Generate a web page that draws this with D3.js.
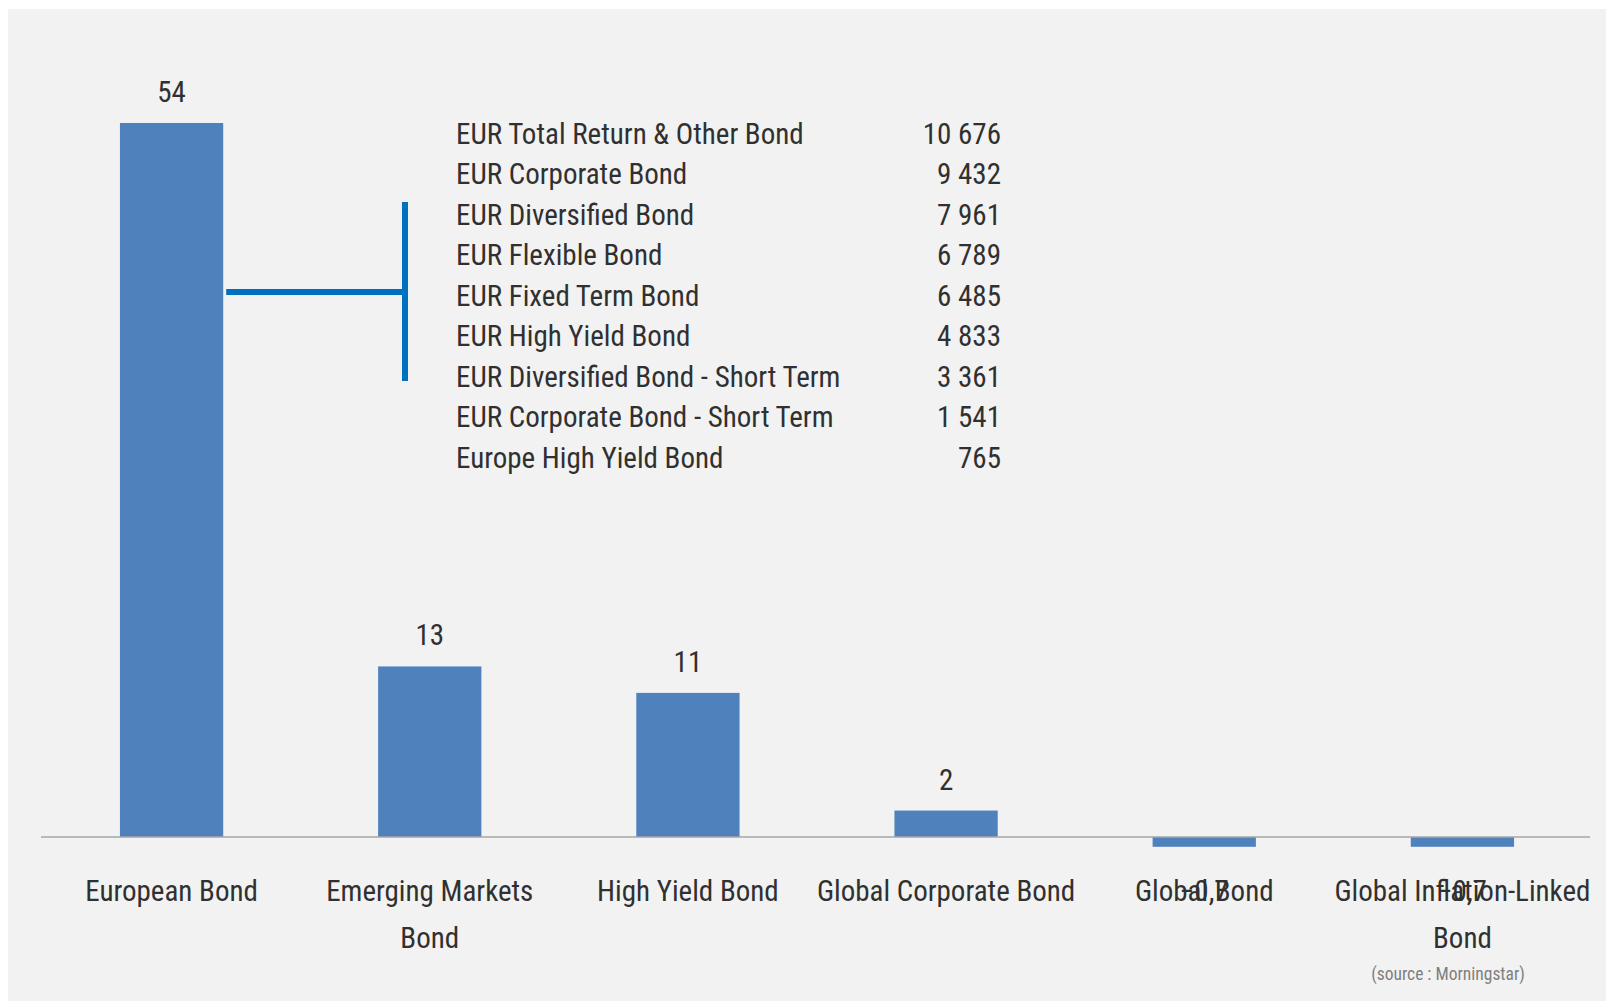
<!DOCTYPE html>
<html>
<head>
<meta charset="utf-8">
<script src="https://cdn.jsdelivr.net/npm/d3@7"></script>
<style>
  html, body { margin: 0; padding: 0; background: #ffffff; }
  svg { display: block; }
  text { font-family: "Liberation Sans Narrow", "Arial Narrow", "Roboto Condensed", "DejaVu Sans Condensed", sans-serif; }
</style>
</head>
<body>
<svg id="chart" width="1606" height="1001"></svg>
<script>
// ---- Data ----
const categories = [
  ["European Bond"],
  ["Emerging Markets", "Bond"],
  ["High Yield Bond"],
  ["Global Corporate Bond"],
  ["Global Bond"],
  ["Global Inflation-Linked", "Bond"]
];
const values = [54, 12.9, 10.9, 2.0, -0.74, -0.74];

const subCategories = [
  "EUR Total Return & Other Bond",
  "EUR Corporate Bond",
  "EUR Diversified Bond",
  "EUR Flexible Bond",
  "EUR Fixed Term Bond",
  "EUR High Yield Bond",
  "EUR Diversified Bond - Short Term",
  "EUR Corporate Bond - Short Term",
  "Europe High Yield Bond"
];
const subValues = [10676, 9432, 7961, 6789, 6485, 4833, 3361, 1541, 765];

const sourceText = "(source : Morningstar)";

// ---- Layout ----
const W = 1606, H = 1001;
const svg = d3.select("#chart");

svg.append("rect").attr("x", 8).attr("y", 9).attr("width", W - 8).attr("height", H - 9)
  .attr("fill", "#f2f2f2");

const x = d3.scaleBand()
  .domain(d3.range(categories.length))
  .range([42.5, 1591.5])
  .paddingInner(0.6)
  .paddingOuter(0.3);

const y = d3.scaleLinear().domain([0, 54]).range([837, 123]);

const fmtLabel = v => Math.abs(v) >= 1 ? d3.format(".0f")(v) : d3.format(".1f")(v).replace(".", ",");
const fmtNum = v => d3.format(",")(v).replace(/,/g, " ");

const textColor = "#303030";
const fontSize = 29;

// bars
svg.append("g").selectAll("rect").data(values).join("rect")
  .attr("x", (d, i) => x(i))
  .attr("width", x.bandwidth())
  .attr("y", d => d >= 0 ? y(d) : y(0))
  .attr("height", d => Math.abs(y(d) - y(0)))
  .attr("fill", "#4f81bd");

// baseline axis
const axis = d3.axisBottom(x).tickSize(0).tickFormat("");
const axG = svg.append("g").attr("transform", `translate(0,${y(0)})`).call(axis);
axG.select(".domain").attr("stroke", "#a6a6a6").attr("stroke-width", 1.5)
  .attr("d", `M41,0H1590`);

// category labels
const catG = svg.append("g");
categories.forEach((lines, i) => {
  const cx = x(i) + x.bandwidth() / 2;
  const t = catG.append("text")
    .attr("x", cx)
    .attr("y", 901)
    .attr("text-anchor", "middle")
    .attr("fill", textColor)
    .attr("font-size", fontSize);
  lines.forEach((ln, j) => {
    t.append("tspan").attr("x", cx).attr("dy", j === 0 ? 0 : 47).text(ln);
  });
});

// data labels
svg.append("g").selectAll("text").data(values).join("text")
  .attr("x", (d, i) => x(i) + x.bandwidth() / 2)
  .attr("y", d => d >= 0 ? y(d) - 21 : 901)
  .attr("text-anchor", "middle")
  .attr("fill", textColor)
  .attr("font-size", fontSize)
  .text(d => fmtLabel(d));

// sub-category table
const tbl = svg.append("g");
const rowY = d3.scalePoint().domain(d3.range(subCategories.length)).range([143.5, 468]);
tbl.selectAll("text.name").data(subCategories).join("text")
  .attr("class", "name")
  .attr("x", 456)
  .attr("y", (d, i) => rowY(i))
  .attr("fill", textColor)
  .attr("font-size", fontSize)
  .text(d => d);
tbl.selectAll("text.val").data(subValues).join("text")
  .attr("class", "val")
  .attr("x", 1001)
  .attr("y", (d, i) => rowY(i))
  .attr("text-anchor", "end")
  .attr("fill", textColor)
  .attr("font-size", fontSize)
  .text(d => fmtNum(d));

// bracket connector
const bracketX = 405;
svg.append("line")
  .attr("x1", bracketX).attr("x2", bracketX)
  .attr("y1", 202).attr("y2", 381)
  .attr("stroke", "#0070c0").attr("stroke-width", 6);
svg.append("line")
  .attr("x1", x(0) + x.bandwidth() + 3).attr("x2", bracketX)
  .attr("y1", 292).attr("y2", 292)
  .attr("stroke", "#0070c0").attr("stroke-width", 6);

// source
svg.append("text")
  .attr("x", 1448).attr("y", 980)
  .attr("text-anchor", "middle")
  .attr("fill", "#7f7f7f")
  .attr("font-size", 17.5)
  .text(sourceText);
</script>
</body>
</html>
